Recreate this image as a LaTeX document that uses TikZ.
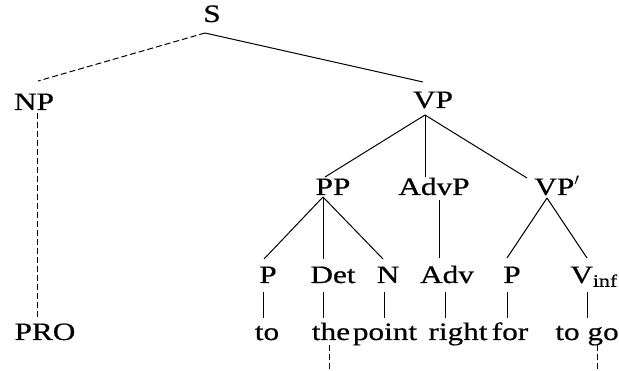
\documentclass[tikz,border=0pt]{standalone}
\usepackage{fontspec}
\setmainfont[FakeStretch=1.25,FakeBold=0.6]{Liberation Serif}
\usetikzlibrary{calc}
\begin{document}
\begin{tikzpicture}[x=1pt,y=-1pt,
  lbl/.style={inner sep=0pt,anchor=base,font=\fontsize{25}{30}\selectfont},
  edge/.style={line width=1pt},
  dedge/.style={line width=1pt,dash pattern=on 6pt off 3pt}]
\useasboundingbox (0,0) rectangle (619,371);
% nodes
\node[lbl] (S) at (212,22) {S};
\node[lbl] (NP) at (34,110) {NP};
\node[lbl] (VP) at (433,108) {VP};
\node[lbl] (PP) at (333,195) {PP};
\node[lbl] (AdvP) at (434,195) {AdvP};
\node[lbl] (VPb) at (557,195) {VP$'$};
\node[lbl] (P1) at (268,283) {P};
\node[lbl] (Det) at (333,283) {Det};
\node[lbl] (N) at (388,283) {N};
\node[lbl] (Adv) at (447,283) {Adv};
\node[lbl] (P2) at (512,283) {P};
\node[lbl] (Vinf) at (594,283) {V\textsubscript{inf}};
\node[lbl] (PRO) at (45,340) {PRO};
\node[lbl] (to) at (267,340) {to};
\node[lbl] (the) at (331,340) {the};
\node[lbl] (point) at (385,340) {point};
\node[lbl] (right) at (458,340) {right};
\node[lbl] (for) at (510,340) {for};
\node[lbl] (togo) at (587,340) {to go};
\coordinate (theEnd) at (329,371);
\coordinate (goEnd) at (597,371);
% connectors
\draw[dedge] ($(S.base)+(-7,11)$) -- ($(NP.base)+(4,-29)$);
\draw[edge] ($(S.base)+(-7,11)$) -- ($(VP.base)+(-10,-26)$);
\draw[dedge] ($(NP.base)+(3,3)$) -- ($(PRO.base)+(-8,-23)$);
\draw[edge] ($(VP.base)+(-8,7)$) -- ($(PP.base)+(-8,-18)$);
\draw[edge] ($(VP.base)+(-8,7)$) -- ($(AdvP.base)+(-9,-18)$);
\draw[edge] ($(VP.base)+(-8,7)$) -- ($(VPb.base)+(-30,-17)$);
\draw[edge] ($(PP.base)+(-10,2)$) -- ($(P1.base)+(-4,-24)$);
\draw[edge] ($(PP.base)+(-10,2)$) -- ($(Det.base)+(-10,-24)$);
\draw[edge] ($(PP.base)+(-10,2)$) -- ($(N.base)+(-5,-24)$);
\draw[edge] ($(AdvP.base)+(5,5)$) -- ($(Adv.base)+(-8,-25)$);
\draw[edge] ($(VPb.base)+(-10,3)$) -- ($(P2.base)+(-5,-25)$);
\draw[edge] ($(VPb.base)+(-10,3)$) -- ($(Vinf.base)+(-7,-25)$);
\draw[edge] ($(P1.base)+(-5,9)$) -- ($(to.base)+(-4,-22)$);
\draw[edge] ($(Det.base)+(-10,9)$) -- ($(the.base)+(-8,-22)$);
\draw[edge] ($(N.base)+(-4,9)$) -- ($(point.base)+(-1,-22)$);
\draw[edge] ($(Adv.base)+(-2,9)$) -- ($(right.base)+(-13,-22)$);
\draw[edge] ($(P2.base)+(-5,9)$) -- ($(for.base)+(-3,-22)$);
\draw[edge] ($(Vinf.base)+(-7,9)$) -- ($(togo.base)+(0,-22)$);
\draw[dedge] ($(the.base)+(-2,5)$) -- (theEnd);
\draw[dedge] ($(togo.base)+(10,5)$) -- (goEnd);
\end{tikzpicture}
\end{document}
